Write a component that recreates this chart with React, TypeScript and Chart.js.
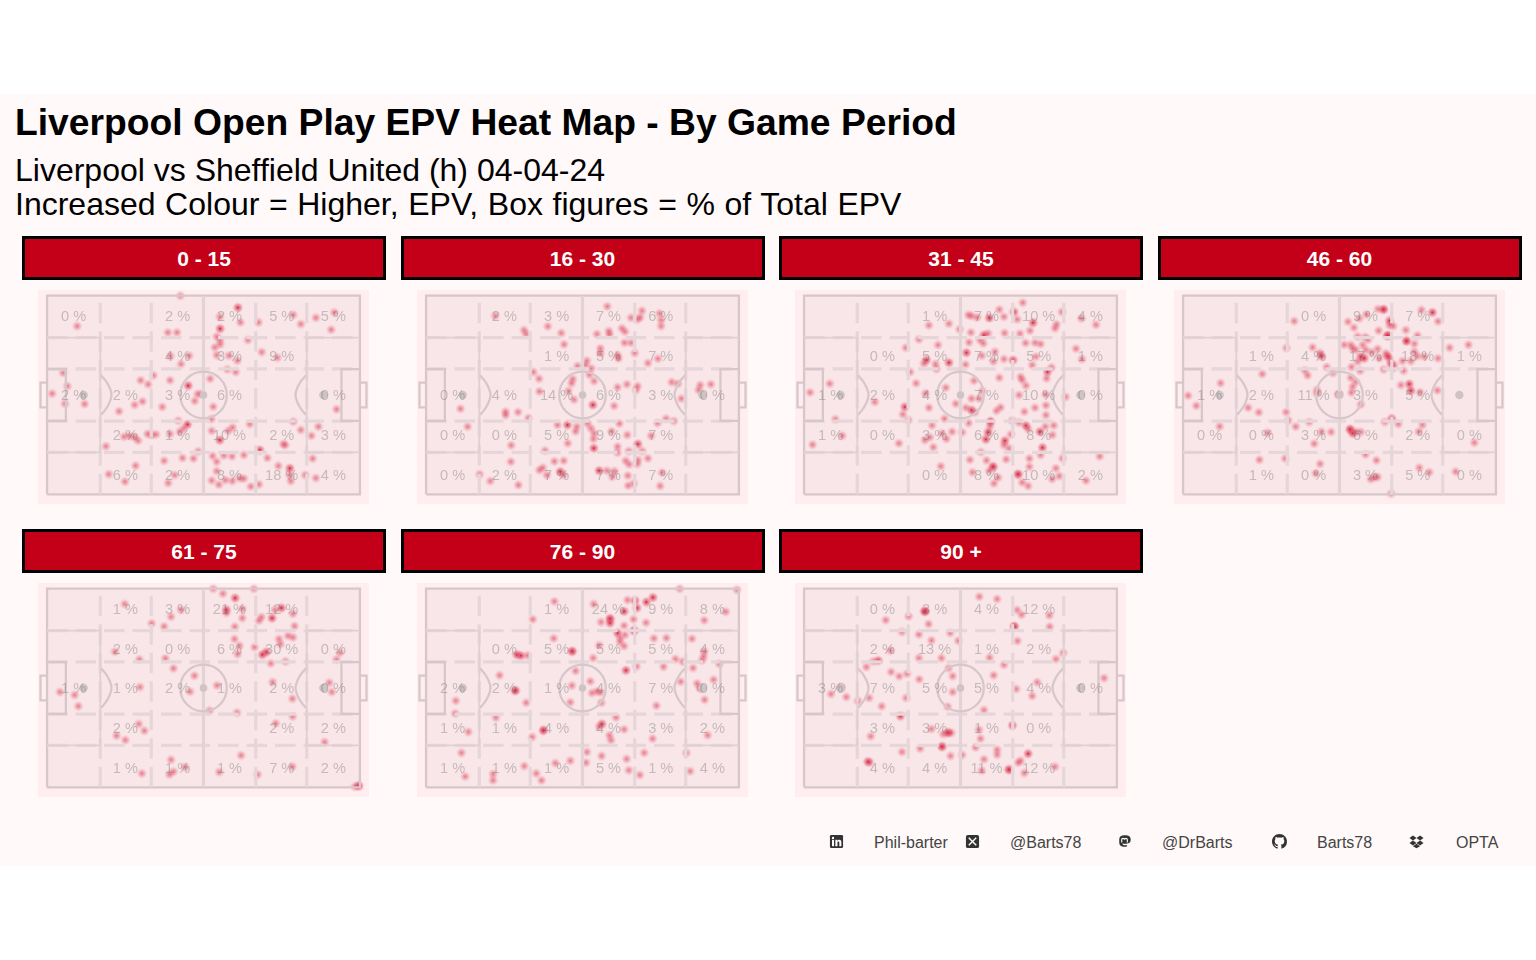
import React, { useEffect, useRef } from "react";
import { Chart, registerables } from "chart.js";

Chart.register(...registerables);

type P = number[];
const n = null;

const periods = ["0 - 15", "16 - 30", "31 - 45", "46 - 60", "61 - 75", "76 - 90", "90 +"];

const zoneColumns = [8.5, 25, 41.7, 58.3, 75, 91.5];
const zoneRows = [89.2, 69.3, 49.3, 29.2, 9.2];

const zones0to15 = [[0, n, 2, 2, 5, 5], [n, n, 4, 3, 9, n], [2, 2, 3, 6, n, 0], [n, 2, 1, 10, 2, 3], [n, 6, 2, 8, 18, 4]];
const zones16to30 = [[n, 2, 3, 7, 6, n], [n, n, 1, 5, 7, n], [0, 4, 14, 6, 3, 0], [0, 0, 5, 9, 7, n], [0, 2, 7, 7, 7, n]];
const zones31to45 = [[n, n, 1, 7, 10, 4], [n, 0, 5, 7, 5, 1], [1, 2, 4, 7, 10, 0], [1, 0, 3, 6, 8, n], [n, n, 0, 8, 10, 2]];
const zones46to60 = [[n, n, 0, 9, 7, n], [n, 1, 4, 17, 18, 1], [1, 2, 11, 3, 5, n], [0, 0, 3, 6, 2, 0], [n, 1, 0, 3, 5, 0]];
const zones61to75 = [[n, 1, 3, 21, 12, n], [n, 2, 0, 6, 30, 0], [1, 1, 2, 1, 2, 0], [n, 2, n, n, 2, 2], [n, 1, 1, 1, 7, 2]];
const zones76to90 = [[n, n, 1, 24, 9, 8], [n, 0, 5, 5, 5, 4], [2, 2, 1, 4, 7, 0], [1, 1, 4, 4, 3, 2], [1, 1, 1, 5, 1, 4]];
const zones90plus = [[n, 0, 3, 4, 12, n], [n, 2, 13, 1, 2, n], [3, 7, 5, 5, 4, 0], [n, 3, 3, 1, 0, n], [n, 4, 4, 11, 12, n]];

const epv0to15: P[] = [[42.6,100],[61,94],[61,94],[61.8,86.6],[55.3,83.4],[55.3,83.4],[67.6,86.6],[78.7,90.4],[81.1,85.7],[85.9,88.9],[91.8,91.6],[90.8,82.9],[9.6,84.7],[38.6,81.5],[41.5,81.5],[55.2,89.4],[54.2,79.4],[55.3,77.7],[55.3,75.5],[53.6,74],[64.2,77.7],[68.6,71.6],[73.6,68.8],[39.4,69.6],[45.4,69.8],[42.8,65.6],[54.2,70.1],[58.1,69.8],[60.8,67.3],[57.6,62.9],[60.3,61.6],[5.1,61.2],[6.5,54.5],[1.6,50.7],[5.7,45.6],[12,45.5],[34,59.9],[29.9,57.4],[32.3,55.4],[39.3,57.4],[52.1,58.2],[45.1,54.7],[45.1,54.7],[23,41.8],[28,45],[30.5,46.8],[36.8,44],[47.2,47],[48.1,50.5],[49.3,50.5],[53.1,44.1],[52.5,37.9],[41.9,37.1],[44.9,35.2],[44.9,35.2],[43.7,33.2],[64.8,35.4],[78.7,36.6],[81.1,32.4],[86.7,34.1],[84.5,29.5],[92.5,42.8],[59.3,33.7],[57.9,32],[52.6,32],[55.2,27.3],[55.2,27.3],[75.5,25.3],[76.1,24.8],[68,22.3],[68,22.3],[24.6,29],[26.4,29.4],[28,28.7],[29.1,27],[32.1,30.4],[33.4,29.9],[34.8,30.2],[39.3,30.4],[42.4,31.5],[18.8,24.2],[48.3,21.6],[37.4,16.9],[43.3,18.3],[46.8,18],[52.9,19.3],[54.2,16.4],[56.5,19.5],[59.1,19.1],[62.9,19.8],[70.4,18.3],[84.9,18],[28.3,14.4],[19.7,10.1],[24.9,6.4],[40.8,9.7],[38.7,5.7],[54.2,11.7],[52.6,7],[54.9,4.9],[57,7.2],[59.2,6.7],[61.6,8.1],[62.9,7.9],[65.1,3.9],[67.7,5],[73.9,14.3],[77.6,13.1],[77.6,13.1],[77.6,9.7],[77.9,6.7],[82.5,9.7],[85.9,8.2]];

const epv16to30: P[] = [[57.9,94.6],[69,92.4],[65.5,88.9],[67.6,88.1],[68.4,89.1],[74.6,91.1],[75.1,87.8],[75.1,84.7],[22.1,89.9],[38.9,84.6],[31.3,82.7],[32,80.7],[43.2,81.2],[44.1,75.5],[54.6,80.7],[58.4,82.2],[58.6,80.5],[62.6,83.6],[63.6,81.9],[63.4,76.3],[65.5,76.3],[66.7,71.1],[55.7,73.5],[55.7,71],[61.2,70.1],[61.5,68.5],[74.1,68.3],[70.9,66.1],[51.4,67.3],[48.4,64.6],[50.9,65.1],[52.8,63.4],[34.3,61.6],[36.1,58.2],[52.2,60.2],[53.7,57],[46.9,58.1],[46.5,55.9],[61.2,53.9],[64.2,55.4],[67.6,54.5],[67.1,52.5],[78.5,56.5],[80.5,55.7],[81.6,48.2],[87.6,55],[87.1,52.5],[91,55.4],[36.2,51.8],[45.5,52],[47.3,47.7],[53.3,45],[53.3,45],[60.1,44.5],[11,43.1],[25.4,41.6],[25.4,39.9],[29.4,41.4],[32.7,38.4],[13.3,34.1],[42,34.9],[45.2,34.9],[45.2,34.9],[48.2,34.1],[47.8,31.7],[51.6,35.7],[52.7,33.2],[53.7,30.7],[53.5,27.9],[59.3,31.7],[61.8,35.6],[64.3,29.9],[45.3,25.7],[27.2,24.7],[38,22],[53.6,23.2],[53.6,23.2],[61.2,24],[61.2,21],[64.8,21.8],[67.7,25.3],[67.7,25.3],[69.1,21.8],[71.9,29.5],[74,35.9],[76.7,38.1],[79.2,36.9],[27.1,16.4],[41,16.6],[44,16.9],[70.9,18.1],[63.8,16.9],[64.9,15.1],[67.7,17.3],[67.5,15.3],[36.2,12.2],[37.3,13.4],[42.9,11.4],[42.9,11.4],[43.9,9.7],[38.6,9.7],[55.3,11.9],[55.3,11.9],[57.8,11.9],[60.2,11.7],[59.5,8.9],[64.5,9.4],[75.4,10.9],[17.1,10.1],[20.5,6.7],[29.5,4.7],[64.6,4.4],[66.4,5.5],[74.8,4.2]];

const epv31to45: P[] = [[69.9,96.5],[62.4,93],[67.1,91.8],[67.1,91.8],[63.9,89.4],[82.4,91.8],[52.5,90.3],[53.5,89.8],[55.3,89.1],[59.2,88.8],[59.2,88.8],[68.1,88.1],[73.2,86.4],[73.2,86.4],[80.7,85.6],[80.2,83.6],[72.2,82.4],[69,80.9],[93.3,85.4],[88.6,88.6],[39.9,85.1],[46.3,85.9],[49.7,83.1],[53.3,81.5],[57.5,80.2],[57.5,80.2],[58.8,81],[57.3,76],[56.2,77.7],[64.1,81.2],[36.7,78],[42.8,75.2],[32.5,73.8],[52.7,76.5],[70.8,76.2],[73.8,76.3],[75.6,75.7],[86.9,73.3],[88.8,68.1],[51.9,71.3],[51.9,71.3],[56.8,69.8],[61,71.8],[60.5,66.9],[63.9,68.1],[66.8,67.6],[66.8,67.6],[74.1,69.3],[72.9,65.1],[39.1,67.6],[39.1,67.6],[38.3,65.9],[42,65.6],[42.3,63.1],[46.3,66.3],[46.3,66.3],[51.6,65.3],[33.9,61.6],[79.1,63.9],[77.8,61.7],[77.8,61.7],[77.5,58.4],[69.2,59.1],[69.7,57.5],[70.9,54.7],[62.4,58.7],[54.3,57.2],[8.2,55.7],[1.9,51.3],[35.8,55.9],[45.3,53.7],[38.8,50.8],[57,52],[68.7,50],[77.2,50.3],[83.6,49],[22.6,46.5],[32.2,44],[32.2,44],[39.9,43.6],[48.5,45.6],[53.5,48.2],[56,48.2],[51.7,43.6],[53.5,42.4],[53.5,42.4],[54.6,41.3],[61.5,42.1],[62.8,43.8],[70.4,41.6],[73.8,43.6],[77.3,44.8],[77.3,39.9],[31.6,40.3],[33.3,37.4],[10,37.8],[2.7,25],[12.2,29.5],[30.3,25.7],[40.9,34.7],[44.9,38.1],[52.6,35.9],[59.6,36.6],[59.6,36.6],[59.6,36.6],[59.4,34.1],[58.8,31.2],[58.8,31.2],[58.1,27.7],[58.1,27.7],[66.5,37.1],[68.7,36.1],[70.9,34.6],[70.9,34.6],[71.6,32.9],[75.4,31.5],[75.4,31.5],[77.1,34.1],[79.8,34.7],[79.4,29.9],[47.3,31.5],[50.5,31.2],[45.5,27.9],[44.1,30.7],[40.2,28.7],[38.6,27.3],[41.3,23.7],[66.1,30.2],[64.2,27],[64.2,27],[63.9,24.8],[65.5,23.2],[56.5,21.3],[76.2,23.5],[76.2,23.5],[75.6,19.8],[53,17.4],[58.3,17.1],[64.6,17.6],[72,18],[72,13.9],[82.6,18.1],[94.5,19.1],[43.7,14.1],[60.4,13.9],[60.4,13.9],[60.4,13.9],[59.2,11.9],[53.8,11.1],[62,8.4],[60.7,5.5],[68.4,10.1],[68.4,10.1],[68.4,10.1],[69.7,6],[71.6,4.2],[80.5,13.1],[81.6,9.2],[79.3,7.7],[90.1,6.9]];

const epv46to60: P[] = [[35.5,87.2],[41.4,74],[43.7,71.3],[44.2,69.6],[44.2,69.6],[33,73.7],[45.9,64.1],[38.9,62.4],[39.8,59.9],[47.9,61.1],[25.3,60.6],[12,56],[1.6,49.7],[4.2,44.6],[20.8,43.6],[24.2,41.3],[32.9,41.4],[33.6,37.2],[11.7,34.2],[27,31],[36,34.1],[40.3,36.4],[41.9,25.5],[44.2,31.5],[47.3,31.4],[42.8,52.5],[42.8,50.8],[49.8,50.3],[49.8,50.3],[49.8,50.3],[56.8,45.3],[53.6,58.7],[55.2,56.7],[54.2,54.2],[53.8,51.2],[53.4,32.7],[53.4,32.7],[53.4,32.7],[54.2,30.7],[54.2,30.7],[55.2,31.4],[56.8,31.4],[64.5,36.4],[66.7,38.1],[66.7,38.1],[68.8,35.4],[76.5,34.9],[75.3,31.5],[93.1,26],[58.3,20.1],[61.8,17.1],[24.4,17.4],[32.6,18],[43.8,15.3],[42.4,10.6],[60,7.7],[61.1,8.6],[62.2,8.7],[66.5,0.3],[75.5,13.4],[78.7,11.1],[87.1,11.4],[69.6,55],[72.3,55.5],[72.3,55.5],[72.8,52.2],[72.8,52.2],[75.7,51.3],[81.3,52.3],[62.3,93.3],[64.1,93.1],[64.1,93.1],[64.1,93.1],[58.6,90.6],[56.3,88.6],[52.7,86.9],[54.6,83.9],[66,87.4],[66,87.4],[66,85.2],[67.2,84.7],[62.5,82.4],[65.4,79.9],[65.4,79.9],[65.4,79.9],[65.4,79.9],[55.8,79.5],[58.2,79.2],[59.2,77.9],[71.2,82.7],[74.9,80],[71.4,77.2],[71.4,77.2],[71.4,77.2],[73.9,75.8],[76.2,92.8],[79.7,91.6],[79.7,91.6],[81.5,87.1],[85.2,73.8],[91.2,75.3],[81.5,68.5],[51.5,75.3],[53.6,75.2],[55.2,72.7],[54.2,73.5],[57.4,75.2],[58.4,72.7],[56.8,69.3],[56.8,69.3],[57.9,68.5],[57.9,68.5],[60.3,71.5],[62.2,73.2],[62.7,68.5],[64.8,71],[65.4,69.6],[65.4,69.6],[65.9,68.5],[55.8,66.8],[53.8,64.1],[56.6,62.2],[64.1,62.9],[66.4,65.9],[66.4,65.9],[67.5,65.1],[67,63.4],[70.1,67.1],[70.5,62.2],[72.8,67.1],[73.9,71.8],[74.9,69.6],[77.1,69.3]];

const epv61to75: P[] = [[53.1,100],[66.1,100],[56.2,97.5],[60.1,95.3],[60.1,95.3],[62.4,89.9],[57.3,89.4],[57.3,89.4],[57.3,87.8],[62.4,85.2],[60,80.9],[24.8,92.3],[42.8,89.4],[39.6,85.9],[33.4,82.6],[37.4,81],[78.6,87.4],[74.9,90.3],[74.9,90.3],[72.8,89.4],[71.9,85.2],[71.9,85.2],[68.5,85.7],[67.7,83.9],[79.1,81.2],[77,76.3],[78.6,75.5],[74.1,74.7],[74.6,72.1],[59.9,74.7],[61.5,71.3],[60.9,67.1],[66.3,70.6],[70.1,68.1],[70.1,68.1],[68.8,66.8],[68.8,66.8],[71.5,62.4],[76.2,63.4],[93.6,67.8],[92.5,64.3],[21.7,68.3],[29.5,64.4],[37.8,64.9],[40.4,59.9],[47.1,56.2],[29.7,50.5],[45.7,48.2],[54.3,51.3],[4.1,48],[8.8,46.5],[10,40.9],[51.9,38.6],[60.7,37.6],[72.1,53],[78.4,44.6],[78.5,35.7],[73.1,32.2],[90.2,52.7],[91,48],[29.3,31.9],[31.1,28.5],[22.2,26],[25,23.8],[88.7,22.8],[62,16.1],[39.6,13.9],[44.1,10.2],[40.4,7.9],[39.1,6.5],[30.3,7],[55,7.7],[67.3,6.4],[78.4,10.4],[99.6,0.7],[99.6,0.7],[99.6,0.7],[98.4,0.3]];

const epv76to90: P[] = [[81.1,100],[99.4,99.5],[41,93.6],[53.6,92.3],[34.1,84.6],[95.8,88.4],[88.9,84.1],[64.4,94.3],[66.8,94],[66.8,94],[67.4,90.3],[67.4,90.3],[70.4,93.3],[70.4,93.3],[72.5,95.6],[72.5,95.6],[63.3,88.6],[63.3,88.6],[66.3,84.6],[70.3,82.9],[63.3,81.4],[58.8,84.9],[58.8,84.9],[58.8,84.9],[58.8,82.7],[58.8,82.7],[55.9,83.2],[61.2,77.7],[61.2,77.7],[63.6,76.8],[62,75.2],[62,73.2],[63.3,71.1],[66.5,78.9],[66.5,78.9],[66.5,78.9],[40.8,75],[29,66.8],[29,66.8],[30.3,66.3],[30.3,66.3],[32.4,66.4],[46.7,68.5],[46.7,68.5],[46.7,68.5],[55.3,71.5],[53.4,65.1],[72.8,75],[76.8,75.2],[85,74.8],[79.7,64.6],[82,63.3],[88.9,68.5],[88.7,65.9],[88.2,63.9],[93.7,62.2],[85.3,60.1],[63.9,58.9],[63.9,58.9],[67.3,60.9],[75.9,60.7],[23.5,56.4],[47.8,58.6],[52.5,53.4],[46.6,51.2],[81.4,53.2],[86.6,52.3],[87.6,50],[87.6,50],[91.9,54.2],[89,44.1],[53,47.5],[54.6,48.3],[55.7,47.8],[28.5,48.7],[28.5,48.7],[28.5,48.7],[9.5,43.6],[32,42.6],[46.1,42.8],[56,42.6],[73.6,41.1],[9.3,37.2],[22.3,35.1],[60.7,35.2],[56.2,31.9],[56.2,31.9],[55.3,30.5],[63.3,29.2],[58.6,26.2],[59.1,23.7],[13.5,27.9],[37.5,28.7],[37.5,28.7],[37.5,28.7],[33.9,25.3],[72.4,24.5],[90,26.3],[11.3,17.4],[12.5,5.5],[21.4,6.7],[21.4,3.5],[31.4,10.7],[41.3,12.2],[46.1,13.4],[35.2,7],[36.9,3.5],[51.4,17.8],[51.1,12.4],[56.1,15.8],[64.1,14.3],[64.8,8.6],[69.7,17.4],[68.3,6.2],[83.2,17.3],[84.4,8.1]];

const epv90plus: P[] = [[56,96],[61.7,94.8],[68.1,89.3],[69.5,86.9],[78.4,86.6],[78.5,80.9],[67.2,81],[67.2,81],[67.2,81],[68.2,73.7],[38.6,88.6],[38.6,88.6],[38.6,88.6],[38.6,88.6],[33.4,86.1],[26.1,84.2],[39.8,82.2],[31.3,78.2],[36.7,77],[46.7,77.7],[40.7,74],[49.3,73.8],[27.6,68.8],[36.7,65.1],[43.9,65.1],[59.3,65.3],[63.9,61.7],[80.5,64.6],[82.8,67.6],[22.1,63.4],[23.7,63.8],[23.7,63.8],[19.9,60.6],[27.8,58.1],[30.4,55.9],[32.9,57.2],[36.8,54.4],[46.2,60],[47.5,56],[60.6,56.4],[74.5,52.9],[67.8,49.5],[72.9,46],[95.9,55],[11.8,50.2],[11.8,50.2],[11.8,50.2],[8.6,47],[13.5,45.5],[17.2,43.5],[20.8,45],[32.6,45],[47.5,48],[24.8,40.8],[45.9,40.6],[57.5,38.9],[30.8,35.9],[30.8,35.9],[21.3,25.7],[40.7,29.4],[44.5,26.8],[46,27.5],[46,27.5],[46,27.5],[47.1,27.5],[55.9,29],[56.4,24.5],[66.6,31.2],[66.6,31.2],[37.1,19.5],[44.1,20.5],[44.1,20.5],[44.1,20.5],[31.3,17.8],[46.8,15.8],[50.5,16.3],[54.8,20.1],[61.7,19],[61.7,16.4],[57.5,14.1],[20.4,12.9],[20.4,12.9],[21,12.6],[56.8,8.4],[65.5,8.9],[65.5,8.9],[65.5,8.9],[69.2,13.4],[68.4,12.4],[71.6,16.9],[71.6,16.9],[70.4,7.2],[80.2,10.4]];

const periodPoints = [epv0to15, epv16to30, epv31to45, epv46to60, epv61to75, epv76to90, epv90plus];
const periodZones = [zones0to15, zones16to30, zones31to45, zones46to60, zones61to75, zones76to90, zones90plus];

const zoneVerticals = [17, 33.3, 66.7, 83];
const zoneHorizontals = [21.1, 36.8, 63.2, 78.9];
const pitchOutline: P[] = [[0,0],[100,0],[100,100],[0,100],[0,0]];
const halfway: P[] = [[50,0],[50,100]];
const penaltyLeft: P[] = [[0,21.1],[17,21.1],[17,78.9],[0,78.9]];
const penaltyRight: P[] = [[100,21.1],[83,21.1],[83,78.9],[100,78.9]];
const sixLeft: P[] = [[0,37],[6,37],[6,63],[0,63]];
const sixRight: P[] = [[100,37],[94.1,37],[94.1,63],[100,63]];
const goalLeft: P[] = [[0,43.8],[-2.1,43.8],[-2.1,56.2],[0,56.2]];
const goalRight: P[] = [[100,43.8],[102.1,43.8],[102.1,56.2],[100,56.2]];
const arcLeft: P[] = [[17.2,60],[18.6,57.5],[19.9,54],[20.6,50],[19.9,46],[18.6,42.5],[17.2,40]];
const arcRight: P[] = [[82.8,60],[81.4,57.5],[80.1,54],[79.4,50],[80.1,46],[81.4,42.5],[82.8,40]];
const penaltySpots: P[] = [[11.7,50],[88.3,50]];
const centreSpot: P[] = [[50,50]];

const PITCH_LINE = "#d8c7ca";
const BOX_LINE = "#e0d0d3";
const ZONE_LINE = "#e6d6d9";
const SPOT = "#cfc3c5";

const toXY = (pts: P[]) => pts.map(([x, y]) => ({ x, y }));

function repeated(pts: P[]) {
  const seen = new Map<string, number>();
  pts.forEach((p) => seen.set(p.join(), (seen.get(p.join()) ?? 0) + 1));
  return pts.filter((p, i) => (seen.get(p.join()) ?? 0) > 1 && pts.findIndex((q) => q.join() === p.join()) === i);
}

function makeSprite() {
  const size = 11;
  const c = document.createElement("canvas");
  c.width = size;
  c.height = size;
  const g = c.getContext("2d")!;
  const r = g.createRadialGradient(size / 2, size / 2, 0, size / 2, size / 2, size / 2);
  r.addColorStop(0, "rgba(210,40,65,0.58)");
  r.addColorStop(0.28, "rgba(218,55,80,0.42)");
  r.addColorStop(0.62, "rgba(228,80,105,0.24)");
  r.addColorStop(0.82, "rgba(232,95,115,0.08)");
  r.addColorStop(1, "rgba(235,110,125,0)");
  g.fillStyle = r;
  g.fillRect(0, 0, size, size);
  return c;
}

function line(data: P[], color: string, width: number, dash?: number[], tension = 0) {
  return {
    type: "line" as const,
    data: toXY(data),
    borderColor: color,
    borderWidth: width,
    borderDash: dash ?? [],
    pointRadius: 0,
    tension,
    fill: false,
    clip: false as const,
    borderCapStyle: "butt" as const,
    borderJoinStyle: "miter" as const,
  };
}

function Panel({ index, left, top }: { index: number; left: number; top: number }) {
  const ref = useRef<HTMLCanvasElement | null>(null);
  useEffect(() => {
    const sprite = makeSprite();
    const zones = periodZones[index];
    const pitchPlugin = {
      id: "pitchLayers",
      beforeDatasetsDraw(chart: any) {
        const { ctx, scales } = chart;
        ctx.save();
        ctx.fillStyle = "#f9e6e8";
        const x0 = scales.x.getPixelForValue(0);
        const x1 = scales.x.getPixelForValue(100);
        const y0 = scales.y.getPixelForValue(100);
        const y1 = scales.y.getPixelForValue(0);
        ctx.fillRect(x0, y0, x1 - x0, y1 - y0);
        ctx.restore();
      },
      afterDatasetsDraw(chart: any) {
        const { ctx, scales } = chart;
        ctx.save();
        ctx.font = '14.6px "Liberation Sans", Arial, sans-serif';
        ctx.fillStyle = "rgba(105,105,105,0.36)";
        ctx.textAlign = "center";
        ctx.textBaseline = "middle";
        zones.forEach((row, r) =>
          row.forEach((v, c) => {
            if (v === null) return;
            ctx.fillText(`${v} %`, scales.x.getPixelForValue(zoneColumns[c]), scales.y.getPixelForValue(zoneRows[r]));
          })
        );
        ctx.restore();
      },
    };
    const dash = [20.5, 8];
    const chart = new Chart(ref.current!, {
      type: "scatter",
      data: {
        datasets: [
          line(penaltyLeft, BOX_LINE, 1.8),
          line(penaltyRight, BOX_LINE, 1.8),
          line(sixLeft, PITCH_LINE, 2.3),
          line(sixRight, PITCH_LINE, 2.3),
          line(goalLeft, PITCH_LINE, 2.3),
          line(goalRight, PITCH_LINE, 2.3),
          line(arcLeft, PITCH_LINE, 2.3, undefined, 0.4),
          line(arcRight, PITCH_LINE, 2.3, undefined, 0.4),
          {
            type: "scatter",
            data: toXY(centreSpot),
            pointRadius: 23.3,
            pointBackgroundColor: "rgba(0,0,0,0)",
            pointBorderColor: PITCH_LINE,
            pointBorderWidth: 2.3,
          },
          {
            type: "scatter",
            data: toXY(centreSpot),
            pointRadius: 3.8,
            pointBackgroundColor: SPOT,
            pointBorderWidth: 0,
          },
          {
            type: "scatter",
            data: toXY(penaltySpots),
            pointRadius: 4.2,
            pointBackgroundColor: SPOT,
            pointBorderWidth: 0,
          },
          line(halfway, "#e2d3d6", 3.2),
          ...zoneVerticals.map((x) => line([[x, 0], [x, 100]], ZONE_LINE, 3.2, dash)),
          ...zoneHorizontals.map((y) => line([[0, y], [100, y]], ZONE_LINE, 3.2, dash)),
          line(pitchOutline, PITCH_LINE, 2.3),
          {
            type: "scatter",
            data: toXY(periodPoints[index]),
            pointStyle: sprite,
            pointRadius: 5.5,
            clip: false,
          },
          {
            type: "scatter",
            data: toXY(repeated(periodPoints[index])),
            pointRadius: 0.9,
            pointBackgroundColor: "rgba(95,0,15,0.6)",
            pointBorderWidth: 0,
            clip: false,
          },
        ] as any,
      },
      options: {
        animation: false,
        responsive: false,
        maintainAspectRatio: false,
        layout: { padding: 0, autoPadding: false },
        plugins: { legend: { display: false }, tooltip: { enabled: false } },
        events: [],
        scales: {
          x: { type: "linear", min: -2.9, max: 102.9, display: false },
          y: { type: "linear", min: -4.88, max: 102.87, display: false },
        },
      } as any,
      plugins: [pitchPlugin],
    });
    return () => chart.destroy();
  }, [index]);
  return (
    <canvas
      ref={ref}
      width={331}
      height={214}
      style={{ position: "absolute", left, top, width: 331, height: 214, background: "#ffedef" }}
    />
  );
}

const columnLefts = [22, 400.5, 779, 1157.5];
const panelLefts = [38, 417, 795, 1174];
const stripTops = [236, 529];
const panelTops = [290, 583];
const FONT = '"Liberation Sans", Arial, sans-serif';

const footerTexts: [string, number][] = [
  ["Phil-barter", 874],
  ["@Barts78", 1010],
  ["@DrBarts", 1162],
  ["Barts78", 1317],
  ["OPTA", 1456],
];

const ICON = "#333";
function Icon({ cx, children }: { cx: number; children: React.ReactNode }) {
  return (
    <svg viewBox="0 0 16 16" width={15} height={15} style={{ position: "absolute", left: cx - 7.5, top: 834 }}>
      {children}
    </svg>
  );
}

export default function App() {
  const lines = [
    { text: "Liverpool vs Sheffield United (h) 04-04-24", c: 170, ws: 0 },
    { text: "Increased Colour = Higher, EPV, Box figures = % of Total EPV", c: 204, ws: 0.7 },
  ];
  return (
    <div style={{ position: "absolute", left: 0, top: 0, width: 1536, height: 960, background: "#fff", overflow: "hidden", fontFamily: FONT }}>
      <div style={{ position: "absolute", left: 0, top: 94, width: 1536, height: 772, background: "#fff9f9" }} />
      <div style={{ position: "absolute", left: 15, top: 102, height: 41, lineHeight: "41px", fontSize: 37.25, fontWeight: 700, color: "#000", whiteSpace: "nowrap" }}>
        Liverpool Open Play EPV Heat Map - By Game Period
      </div>
      {lines.map((l) => (
        <div key={l.text} style={{ position: "absolute", left: 15, top: l.c - 18, height: 36, lineHeight: "36px", fontSize: 32, color: "#000", whiteSpace: "nowrap", wordSpacing: l.ws }}>
          {l.text}
        </div>
      ))}
      {periods.map((p, i) => {
        const col = i % 4;
        const row = Math.floor(i / 4);
        return (
          <React.Fragment key={p}>
            <div
              style={{
                position: "absolute",
                left: columnLefts[col],
                top: stripTops[row],
                width: 364,
                height: 43.5,
                boxSizing: "border-box",
                border: "3px solid #000",
                background: "#c40018",
                color: "#fff",
                fontWeight: 700,
                fontSize: 21,
                textAlign: "center",
                lineHeight: "40px",
              }}
            >
              {p}
            </div>
            <Panel index={i} left={panelLefts[col]} top={panelTops[row]} />
          </React.Fragment>
        );
      })}
      {footerTexts.map(([t, x]) => (
        <div key={t} style={{ position: "absolute", left: x, top: 833, lineHeight: "20px", fontSize: 16, color: "#444", whiteSpace: "nowrap" }}>
          {t}
        </div>
      ))}
      <Icon cx={836.5}>
        <rect x="1" y="1" width="14" height="14" rx="1.5" fill={ICON} />
        <rect x="3.2" y="6.2" width="2.2" height="6.8" fill="#fff" />
        <circle cx="4.3" cy="4.2" r="1.25" fill="#fff" />
        <path d="M6.8 6.2h2.1v1c.4-.7 1.2-1.2 2.1-1.2 1.7 0 2.2 1.1 2.2 2.8V13h-2.2V9.3c0-.8-.2-1.4-1-1.4s-1 .6-1 1.4V13H6.8z" fill="#fff" />
      </Icon>
      <Icon cx={972}>
        <rect x="1" y="1" width="14" height="14" rx="2" fill={ICON} />
        <path d="M4 4l8 8M12 4l-8 8" stroke="#fff" strokeWidth="1.5" />
      </Icon>
      <Icon cx={1124}>
        <path d="M8 1.2c-3.6 0-5.6 1.3-5.6 4.3v3.6c0 3.3 2.5 4.6 5.4 4.6 1.3 0 2.3-.3 3-.7l-.1-1.2c-1.5.5-4.6.6-5-1.7 3.6.8 8.9.6 8.9-3.7V5.5c0-3-2-4.3-5.6-4.3z" fill={ICON} />
        <path d="M5 9V6.1c0-1.9 2.8-1.9 3 0 .2-1.9 3-1.9 3 0V9" stroke="#fff" strokeWidth="1.2" fill="none" />
      </Icon>
      <Icon cx={1279}>
        <path
          d="M8 0C3.58 0 0 3.58 0 8c0 3.54 2.29 6.53 5.47 7.59.4.07.55-.17.55-.38 0-.19-.01-.82-.01-1.49-2.01.37-2.53-.49-2.69-.94-.09-.23-.48-.94-.82-1.13-.28-.15-.68-.52-.01-.53.63-.01 1.08.58 1.23.82.72 1.21 1.87.87 2.33.66.07-.52.28-.87.51-1.07-1.78-.2-3.64-.89-3.64-3.95 0-.87.31-1.59.82-2.15-.08-.2-.36-1.02.08-2.12 0 0 .67-.21 2.2.82.64-.18 1.32-.27 2-.27.68 0 1.36.09 2 .27 1.53-1.04 2.2-.82 2.2-.82.44 1.1.16 1.92.08 2.12.51.56.82 1.27.82 2.15 0 3.07-1.87 3.75-3.65 3.95.29.25.54.73.54 1.48 0 1.07-.01 1.93-.01 2.2 0 .21.15.46.55.38A8.013 8.013 0 0016 8c0-4.42-3.58-8-8-8z"
          fill={ICON}
        />
      </Icon>
      <Icon cx={1416.5}>
        <path d="M4.2 1.5L.5 4.2 4.2 6.9 8 4.2zM11.8 1.5L8 4.2l3.8 2.7 3.7-2.7zM4.2 6.9L.5 9.6l3.7 2.7L8 9.6zM11.8 6.9L8 9.6l3.8 2.7 3.7-2.7zM8 10.4l-3.8 2.7L8 15.3l3.8-2.2z" fill={ICON} />
      </Icon>
    </div>
  );
}
